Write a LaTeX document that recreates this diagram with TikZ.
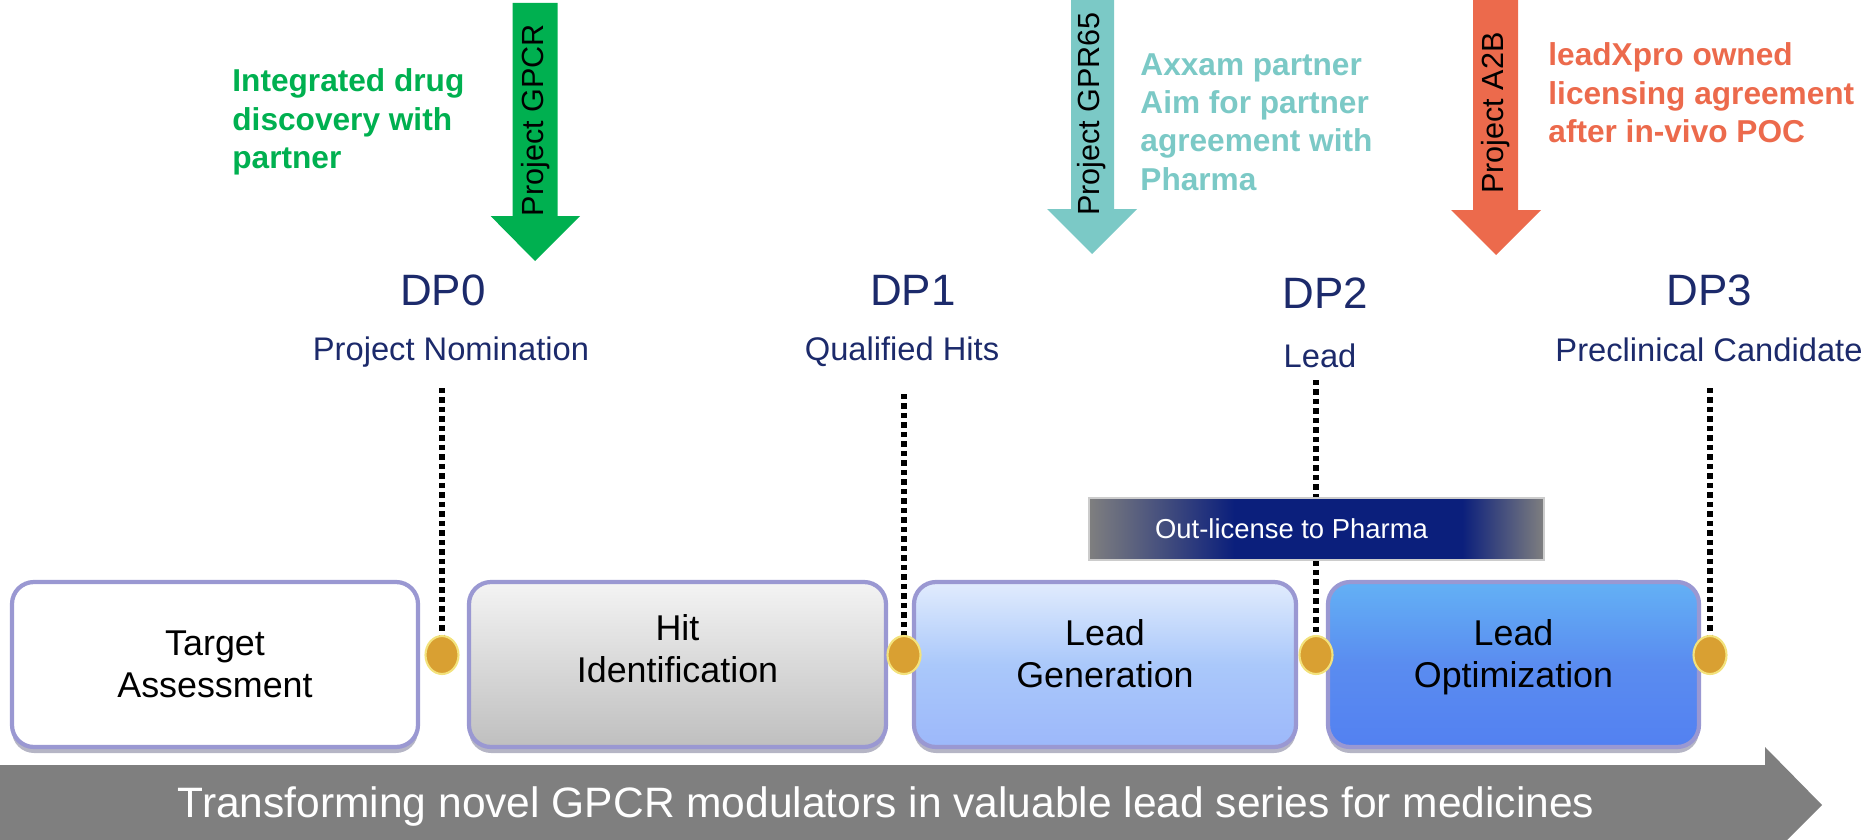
\documentclass[tikz,border=0pt]{standalone}
\usepackage{fontspec}
\setmainfont{Liberation Sans}
\usetikzlibrary{positioning, shadows, shapes.geometric}
\definecolor{dpblue}{HTML}{1C2A6B}
\definecolor{gpcrgreen}{HTML}{00B050}
\definecolor{gprteal}{HTML}{7BC9C6}
\definecolor{atwob}{HTML}{EC6A4C}
\definecolor{navyband}{HTML}{0B1F7C}
\definecolor{bandgray}{HTML}{7F7F7F}
\definecolor{rimlav}{HTML}{9A98D2}
\definecolor{golddot}{HTML}{D9A032}
\definecolor{goldrim}{HTML}{F3E27C}
\definecolor{hitgray}{HTML}{D9D9D9}
\definecolor{lgblue}{HTML}{AAC8FA}
\definecolor{loblue}{HTML}{5A8CF0}
\pgfdeclarehorizontalshading{outband}{100bp}{color(0bp)=(bandgray); color(25bp)=(bandgray); color(41bp)=(navyband); color(66bp)=(navyband); color(75bp)=(bandgray); color(100bp)=(bandgray)}
\tikzset{
	stage/.style={draw=rimlav, line width=1.2pt, rounded corners=0.22cm, minimum height=1.65cm, inner sep=0pt, drop shadow={shadow xshift=0pt, shadow yshift=-0.06cm, fill=rimlav!60!black, opacity=0.45}},
	stagetext/.style={align=center, font=\fontsize{10.2}{12}\selectfont},
	dptitle/.style={text=dpblue, font=\fontsize{12.5}{14}\selectfont},
	dpsub/.style={text=dpblue, font=\fontsize{9.3}{11}\selectfont},
	dpline/.style={line width=1.5pt, dash pattern=on 1.5pt off 1.2pt},
	dpdot/.style={ellipse, fill=golddot, draw=goldrim, line width=0.6pt, minimum width=0.33cm, minimum height=0.38cm, inner sep=0pt},
	projtext/.style={rotate=90, font=\fontsize{8.7}{10}\selectfont},
	note/.style={anchor=west, align=left, font=\bfseries\fontsize{9}{10.9}\selectfont},
	bandtext/.style={text=white, font=\fontsize{7.8}{9}\selectfont}
}

\begin{document}
\begin{tikzpicture}[font=\fontsize{9}{10.8}\selectfont]
\useasboundingbox (0,0) rectangle (18.73,-8.40);

\fill[bandgray] (0,-7.65) -- (17.65,-7.65) -- (17.65,-7.47) -- (18.22,-8.05) -- (17.87,-8.40) -- (0,-8.40) -- cycle;
\node[text=white, font=\fontsize{12.1}{14}\selectfont] (banner) at (8.86,-8.06) {Transforming novel GPCR modulators in valuable lead series for medicines};

\node[stage, minimum width=4.06cm, fill=white] (target) at (2.15,-6.645) {};
\node[stage, minimum width=4.17cm, top color=hitgray!30, bottom color=hitgray!88!black, middle color=hitgray] (hit) at (6.775,-6.645) {};
\node[stage, minimum width=3.82cm, top color=lgblue!35, bottom color=lgblue!92!blue, middle color=lgblue] (leadgen) at (11.05,-6.645) {};
\node[stage, minimum width=3.71cm, top color=cyan!20!loblue!85!white, bottom color=loblue!92!blue, middle color=loblue] (leadopt) at (15.135,-6.645) {};
\node[stagetext] (targettxt) at (target.center) {Target\\Assessment};
\node[stagetext] (hittxt) at ([yshift=0.16cm]hit.center) {Hit\\Identification};
\node[stagetext] (leadgentxt) at ([yshift=0.11cm]leadgen.center) {Lead\\Generation};
\node[stagetext] (leadopttxt) at ([yshift=0.07cm]leadopt.center) {Lead\\Optimization};

\node[dptitle] (dp0) at (4.43,-2.90) {DP0};
\node[dpsub] (dp0sub) at (4.51,-3.52) {Project Nomination};
\node[dptitle] (dp1) at (9.13,-2.90) {DP1};
\node[dpsub] (dp1sub) at (9.02,-3.52) {Qualified Hits};
\node[dptitle] (dp2) at (13.25,-2.93) {DP2};
\node[dpsub] (dp2sub) at (13.20,-3.56) {Lead};
\node[dptitle] (dp3) at (17.09,-2.90) {DP3};
\node[dpsub] (dp3sub) at (17.09,-3.50) {Preclinical Candidate};

\coordinate (top0) at (4.42,-3.88);
\coordinate (top1) at (9.04,-3.94);
\coordinate (top2) at (13.16,-3.80);
\coordinate (top3) at (17.10,-3.88);
\coordinate (mid0) at (4.42,-6.55);
\coordinate (mid1) at (9.04,-6.55);
\coordinate (mid2) at (13.16,-6.55);
\coordinate (mid3) at (17.10,-6.55);
\draw[dpline] (top0) -- (mid0);
\draw[dpline] (top1) -- (mid1);
\draw[dpline] (top2) -- (mid2);
\draw[dpline] (top3) -- (mid3);

\node[shading=outband, draw=gray!40, line width=0.3pt, minimum width=4.55cm, minimum height=0.62cm] (outlic) at (13.165,-5.29) {};
\node[bandtext] (outlictxt) at ([xshift=-0.25cm]outlic.center) {Out-license to Pharma};

\node[dpdot] (dot0) at (mid0) {};
\node[dpdot] (dot1) at (mid1) {};
\node[dpdot] (dot2) at (mid2) {};
\node[dpdot] (dot3) at (mid3) {};

\fill[gpcrgreen] (5.125,-0.03) -- (5.576,-0.03) -- (5.576,-2.16) -- (5.80,-2.16) -- (5.35,-2.61) -- (4.906,-2.16) -- (5.125,-2.16) -- cycle;
\fill[gprteal] (10.71,0) -- (11.14,0) -- (11.14,-2.09) -- (11.37,-2.09) -- (10.92,-2.54) -- (10.47,-2.09) -- (10.71,-2.09) -- cycle;
\fill[atwob] (14.73,0) -- (15.18,0) -- (15.18,-2.10) -- (15.41,-2.10) -- (14.96,-2.55) -- (14.51,-2.10) -- (14.73,-2.10) -- cycle;
\node[projtext] (gpcr) at (5.36,-1.20) {Project GPCR};
\node[projtext] (gpr65) at (10.92,-1.14) {Project GPR65};
\node[projtext] (a2b) at (14.96,-1.13) {Project A2B};

\node[note, text=gpcrgreen] (gpcrnote) at (2.20,-1.22) {Integrated drug\\discovery with\\partner};
\node[note, text=gprteal] (gpr65note) at (11.28,-1.22) {Axxam partner\\Aim for partner\\agreement with\\Pharma};
\node[note, text=atwob] (a2bnote) at (15.36,-0.93) {leadXpro owned\\licensing agreement\\after in-vivo POC};
\end{tikzpicture}
\end{document}
